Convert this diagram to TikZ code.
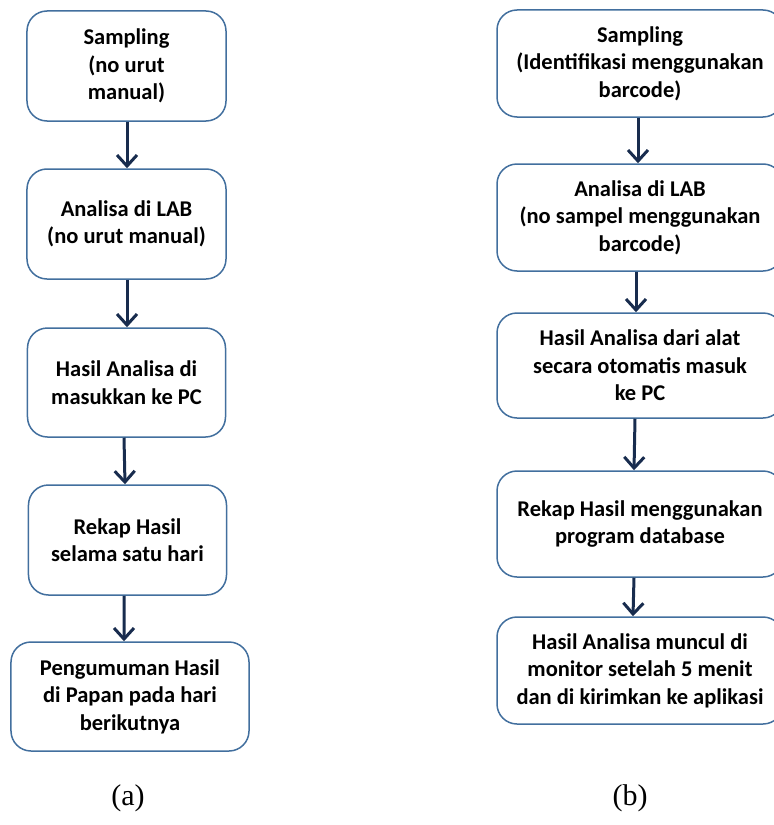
\documentclass[tikz,border=0pt]{standalone}
\usepackage{fontspec}
\setmainfont{Carlito}
\newfontfamily\capfont{Liberation Serif}
\usetikzlibrary{arrows.meta}
\definecolor{boxline}{RGB}{66,111,158}
\definecolor{flowarrow}{RGB}{24,44,78}
\tikzset{
  stepbox/.style={draw=boxline, line width=1.5bp, rounded corners=20bp,
    fill=white, inner sep=0pt, align=center,
    font=\bfseries\fontsize{22.5bp}{27.5bp}\selectfont},
  flow/.style={draw=flowarrow, line width=3bp,
    -{Straight Barb[length=11bp,width=20bp,line width=3bp]}},
  caption/.style={font=\capfont\fontsize{30bp}{34bp}\selectfont}
}
\begin{document}
\begin{tikzpicture}[x=1bp,y=-1bp]
\useasboundingbox (0,0) rectangle (774,825);

% left chain: manual procedure
\node[stepbox, minimum width=199bp, minimum height=110bp] (a1) at (126.5,66)
  {Sampling\\(no urut\\manual)};
\node[stepbox, minimum width=199bp, minimum height=110bp] (a2) at (126.5,224)
  {Analisa di LAB\\(no urut manual)};
\node[stepbox, minimum width=198bp, minimum height=109bp] (a3) at (126.5,382.5)
  {Hasil Analisa di\\masukkan ke PC};
\node[stepbox, minimum width=198bp, minimum height=110bp] (a4) at (127.5,540)
  {Rekap Hasil\\selama satu hari};
\node[stepbox, minimum width=238bp, minimum height=109bp] (a5) at (130,696.5)
  {Pengumuman Hasil\\di Papan pada hari\\berikutnya};

\draw[flow] ([xshift=0.5bp]a1.south) -- ([xshift=0.5bp]a2.north);
\draw[flow] ([xshift=0.5bp]a2.south) -- ([xshift=0.5bp]a3.north);
\draw[flow] ([xshift=-2.5bp]a3.south) -- ([xshift=-2.5bp]a4.north);
\draw[flow] ([xshift=-3.5bp]a4.south) -- ([xshift=-6bp]a5.north);

% right chain: barcode-based procedure
\node[stepbox, minimum width=286bp, minimum height=107bp] (b1) at (640,63.5)
  {Sampling\\(Identifikasi menggunakan\\barcode)};
\node[stepbox, minimum width=286bp, minimum height=107bp] (b2) at (640,217.5)
  {Analisa di LAB\\(no sampel menggunakan\\barcode)};
\node[stepbox, minimum width=286bp, minimum height=105bp] (b3) at (640,365.5)
  {Hasil Analisa dari alat\\secara otomatis masuk\\ke PC};
\node[stepbox, minimum width=286bp, minimum height=106bp] (b4) at (640,524)
  {Rekap Hasil menggunakan\\program database};
\node[stepbox, minimum width=286bp, minimum height=107bp] (b5) at (640,670.5)
  {Hasil Analisa muncul di\\monitor setelah 5 menit\\dan di kirimkan ke aplikasi};

\draw[flow] ([xshift=-2bp]b1.south) -- ([xshift=-2bp]b2.north);
\draw[flow] ([xshift=-4bp]b2.south) -- ([xshift=-4bp]b3.north);
\draw[flow] ([xshift=-5bp]b3.south) -- ([xshift=-6bp]b4.north);
\draw[flow] ([xshift=-6bp]b4.south) -- ([xshift=-7bp]b5.north);

% captions
\node[caption] (capa) at (128,798) {(a)};
\node[caption] (capb) at (630,798) {(b)};
\end{tikzpicture}
\end{document}
